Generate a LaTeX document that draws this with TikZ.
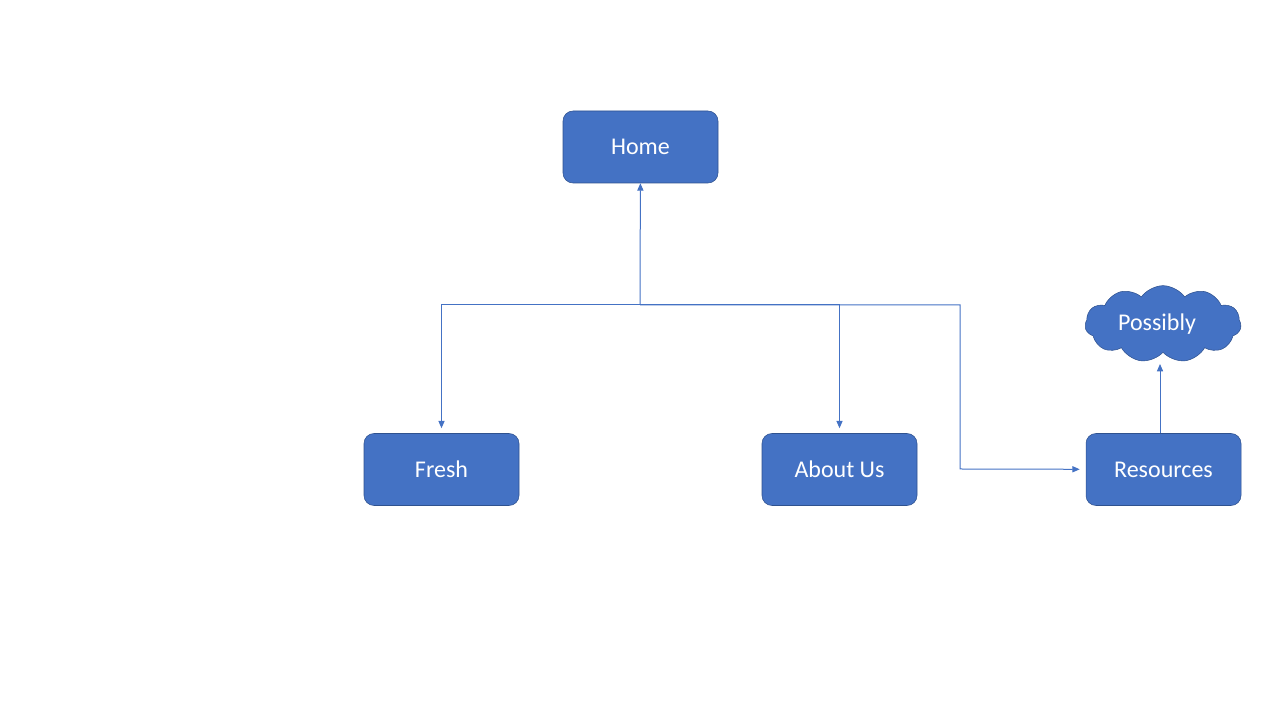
\documentclass[tikz,border=0pt]{standalone}
\usepackage{fontspec}
\setmainfont{Carlito}
\usetikzlibrary{arrows.meta}
\usetikzlibrary{shapes.symbols}
\definecolor{boxblue}{HTML}{4472C4}
\definecolor{edgeblue}{HTML}{2F528F}

\begin{document}
\begin{tikzpicture}[x=0.75pt, y=0.75pt,
    page/.style={draw=edgeblue, fill=boxblue, text=white, rounded corners=7.5pt,
        minimum width=116.25pt, minimum height=54pt, inner sep=0pt, font=\fontsize{18}{21}\selectfont},
    conn/.style={draw=boxblue, line width=0.75pt, -{Triangle[length=5.5pt, width=4.6pt]}}]
    \useasboundingbox (0,0) rectangle (1280,720);
    \node [page] (home) at (640.5,573) {Home};
    \node [page] (fresh) at (441.5,250.5) {Fresh};
    \node [page] (about) at (839.5,250.5) {About Us};
    \node [page] (res) at (1163.5,250.5) {Resources};
    \node [cloud, cloud puffs=11, cloud puff arc=110, aspect=2.1, draw=edgeblue, fill=boxblue,
        text=white, minimum width=117pt, minimum height=55pt, inner sep=0pt,
        font=\fontsize{18}{21}\selectfont] (poss) at (1163,396) {Possibly\kern9pt};
    \coordinate (hub) at (640,415);
    \coordinate (turn) at (960,415);
    \coordinate (low) at (960,251);
    \coordinate (tip) at (1160,356);
    \draw [conn] (hub) -- (home);
    \draw [conn, shorten >=3.75pt] (hub) -| (fresh);
    \draw [conn, shorten >=3.75pt] (hub) -| (about);
    \draw [conn, shorten >=4.5pt] (hub) -- (turn) -- (low) -- (res);
    \draw [conn] (res.north -| tip) -- (tip);
\end{tikzpicture}
\end{document}
